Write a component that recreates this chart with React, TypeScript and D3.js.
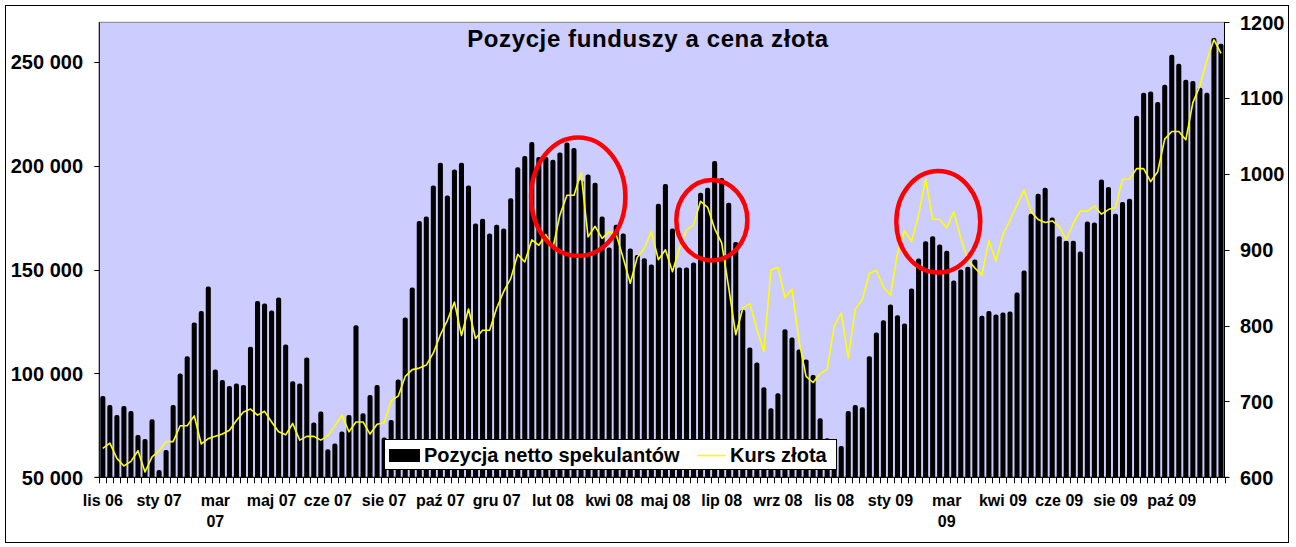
import React, { useRef, useEffect } from "react";
import * as d3 from "d3";

// net position of speculators (contracts), weekly
const positions = [
  89100, 84800, 80000, 84300, 81900, 70300, 68400, 77900, 53500, 63100,
  84800, 100000, 108300, 124500, 130000, 141800, 101900, 96800, 93900, 95200,
  94400, 112800, 134900, 133700, 130300, 136500, 113900, 96200, 95200, 107700,
  76400, 81700, 63500, 66300, 72100, 80000, 123200, 80800, 89600, 94400,
  69200, 77600, 97100, 126900, 141300, 173400, 175500, 190400, 201400, 185600,
  198100, 201400, 190400, 172100, 174500, 167300, 171600, 169700, 184300, 199200,
  204600, 211400, 204200, 204200, 202900, 206300, 211100, 208500, 193000, 195700,
  191800, 175500, 160600, 171600, 167300, 160100, 157000, 155400, 152400, 181700,
  191200, 169700, 151000, 151000, 153400, 186900, 189400, 202200, 194100, 182200,
  163300, 130600, 112500, 105300, 93300, 83200, 90400, 121200, 117300, 111500,
  106700, 99200, 78400, 68800, 60000, 65100, 81900, 84800, 83700, 108300,
  119700, 125600, 133200, 128000, 124000, 140900, 155300, 163600, 166000, 162000,
  159100, 144700, 150000, 151400, 154800, 127700, 130000, 128400, 129300, 129800,
  138900, 149500, 176800, 186500, 189400, 175000, 166000, 163900, 163900, 158700,
  173100, 172600, 193300, 189700, 176900, 182500, 184100, 224000, 235100, 235700,
  230600, 238900, 253400, 249000, 241300, 240700, 237500, 235100, 261500, 258700,
];

// gold price, USD/oz
const kurs = [
  638, 645, 625, 615, 621, 635, 607, 627, 635, 647,
  647, 668, 668, 681, 644, 651, 654, 657, 662, 675,
  686, 690, 682, 687, 673, 660, 656, 671, 649, 654,
  654, 649, 655, 668, 682, 660, 673, 673, 657, 670,
  672, 701, 707, 733, 742, 744, 748, 764, 788, 807,
  831, 787, 822, 783, 794, 794, 823, 845, 862, 894,
  884, 913, 906, 920, 902, 946, 972, 972, 1002, 917,
  931, 915, 924, 920, 889, 856, 890, 902, 924, 887,
  900, 871, 902, 926, 933, 964, 956, 928, 909, 850,
  788, 823, 829, 796, 766, 873, 877, 837, 848, 780,
  733, 725, 737, 742, 799, 817, 757, 822, 834, 869,
  873, 851, 840, 895, 925, 911, 946, 993, 941, 940,
  929, 950, 916, 887, 876, 867, 912, 885, 920, 939,
  959, 979, 950, 940, 936, 938, 931, 913, 935, 951,
  951, 958, 947, 953, 956, 993, 993, 1007, 1007, 990,
  1003, 1046, 1056, 1056, 1045, 1094, 1116, 1150, 1177, 1159,
];

const tickLabels = [
  "lis 06", "sty 07", "mar\n07", "maj 07", "cze 07", "sie 07", "paź 07",
  "gru 07", "lut 08", "kwi 08", "maj 08", "lip 08", "wrz 08", "lis 08",
  "sty 09", "mar\n09", "kwi 09", "cze 09", "sie 09", "paź 09",
];
const labelEvery = 8;

const leftTicks = [50000, 100000, 150000, 200000, 250000];
const rightTicks = [600, 700, 800, 900, 1000, 1100, 1200];

// red rings drawn over the chart: centre (week index, price) and half sizes
const highlights = [
  { center: 67.6, value: 970, halfWeeks: 6.7, halfPrice: 78 },
  { center: 86.6, value: 939, halfWeeks: 5.05, halfPrice: 53 },
  { center: 118.8, value: 937, halfWeeks: 5.97, halfPrice: 67 },
];

const WIDTH = 1296;
const HEIGHT = 547;
const FONT = "'Liberation Sans', Arial, sans-serif";

const App = () => {
  const chartRef = useRef<SVGSVGElement | null>(null);

  useEffect(() => {
    if (!chartRef.current) return;
    const svg = d3.select(chartRef.current);
    svg.selectAll("*").remove();

    const left = 99.3;
    const right = 1224.5;
    const top = 22.3;
    const bottom = 477.3;

    const idx = positions.map((_, i) => i);
    const x = d3.scaleBand<number>().domain(idx).range([left, right]).paddingInner(0.28).paddingOuter(0.14);
    const xc = d3.scaleLinear().domain([0, positions.length]).range([left, right]);
    const yL = d3.scaleLinear().domain([50000, 269000]).range([bottom, top]);
    const yR = d3.scaleLinear().domain([600, 1200]).range([bottom, top]);
    const fmt = d3.formatLocale({ thousands: " ", grouping: [3], decimal: ",", currency: ["", ""] }).format(",d");

    // outer frame
    svg.append("rect")
      .attr("x", 5.5).attr("y", 5.5)
      .attr("width", 1283).attr("height", 537)
      .attr("fill", "#fff").attr("stroke", "#000");

    // plot area
    svg.append("rect")
      .attr("x", left).attr("y", top)
      .attr("width", right - left).attr("height", bottom - top)
      .attr("fill", "#CCCCFF").attr("stroke", "#808080");

    svg.append("text")
      .attr("x", 648).attr("y", 47)
      .attr("text-anchor", "middle")
      .attr("font-family", FONT).attr("font-weight", "bold")
      .attr("font-size", 24).attr("letter-spacing", 0.6)
      .text("Pozycje funduszy a cena złota");

    // bars
    svg.append("g").selectAll("rect")
      .data(positions)
      .enter().append("rect")
      .attr("x", (_, i) => x(i)!)
      .attr("width", x.bandwidth())
      .attr("y", (d) => yL(d))
      .attr("height", (d) => bottom - yL(d) + 2)
      .attr("rx", 2)
      .attr("fill", "#000");

    // gold price line
    const line = d3.line<number>()
      .x((_, i) => xc(i + 0.5))
      .y((d) => yR(d));
    svg.append("path")
      .datum(kurs)
      .attr("d", line)
      .attr("fill", "none")
      .attr("stroke", "#FFFF00")
      .attr("stroke-width", 1.6)
      .attr("stroke-linejoin", "round");

    // cover the bar roundings below the axis
    svg.append("rect")
      .attr("x", left - 1).attr("y", bottom + 0.5)
      .attr("width", right - left + 2).attr("height", 4)
      .attr("fill", "#fff");

    // axes
    const axes = svg.append("g").attr("stroke", "#000").attr("stroke-width", 1);
    axes.append("line").attr("x1", left).attr("x2", left).attr("y1", top).attr("y2", bottom);
    axes.append("line").attr("x1", right).attr("x2", right).attr("y1", top).attr("y2", bottom);
    axes.append("line").attr("x1", left - 4).attr("x2", right + 4).attr("y1", bottom).attr("y2", bottom);

    axes.selectAll(".lt").data(leftTicks).enter().append("line")
      .attr("x1", left - 5).attr("x2", left)
      .attr("y1", (d) => Math.round(yL(d)) + 0.5).attr("y2", (d) => Math.round(yL(d)) + 0.5);
    axes.selectAll(".rt").data(rightTicks).enter().append("line")
      .attr("x1", right).attr("x2", right + 5)
      .attr("y1", (d) => Math.round(yR(d)) + 0.5).attr("y2", (d) => Math.round(yR(d)) + 0.5);
    axes.selectAll(".xt").data(d3.range(positions.length + 1)).enter().append("line")
      .attr("x1", (d) => Math.round(xc(d)) + 0.5).attr("x2", (d) => Math.round(xc(d)) + 0.5)
      .attr("y1", bottom).attr("y2", bottom + 6);

    svg.append("g").selectAll("text").data(leftTicks).enter().append("text")
      .attr("x", 83).attr("y", (d) => yL(d))
      .attr("dy", "0.36em")
      .attr("text-anchor", "end")
      .attr("font-family", FONT).attr("font-weight", "bold").attr("font-size", 20)
      .text((d) => fmt(d));

    svg.append("g").selectAll("text").data(rightTicks).enter().append("text")
      .attr("x", 1240).attr("y", (d) => yR(d))
      .attr("dy", "0.36em")
      .attr("font-family", FONT).attr("font-weight", "bold").attr("font-size", 20)
      .text((d) => d);

    const xl = svg.append("g").selectAll("text").data(tickLabels).enter().append("text")
      .attr("x", (_, k) => xc(k * labelEvery + 0.5))
      .attr("y", 506)
      .attr("text-anchor", "middle")
      .attr("font-family", FONT).attr("font-weight", "bold").attr("font-size", 16);
    xl.each(function (d) {
      const t = d3.select(this);
      d.split("\n").forEach((part, j) => {
        t.append("tspan")
          .attr("x", t.attr("x"))
          .attr("dy", j === 0 ? 0 : 21)
          .text(part);
      });
    });

    // legend
    const lg = svg.append("g");
    lg.append("rect")
      .attr("x", 384.5).attr("y", 439.5).attr("width", 452).attr("height", 30)
      .attr("fill", "#fff").attr("stroke", "#000");
    lg.append("rect")
      .attr("x", 389).attr("y", 449).attr("width", 31).attr("height", 13)
      .attr("fill", "#000");
    lg.append("text")
      .attr("x", 424).attr("y", 462)
      .attr("font-family", FONT).attr("font-weight", "bold").attr("font-size", 20)
      .text("Pozycja netto spekulantów");
    lg.append("line")
      .attr("x1", 697).attr("x2", 726).attr("y1", 455.5).attr("y2", 455.5)
      .attr("stroke", "#FFFF00").attr("stroke-width", 1.6);
    lg.append("text")
      .attr("x", 730).attr("y", 462)
      .attr("font-family", FONT).attr("font-weight", "bold").attr("font-size", 20)
      .text("Kurs złota");

    // red rings
    svg.append("g").selectAll("ellipse").data(highlights).enter().append("ellipse")
      .attr("cx", (d) => xc(d.center + 0.5))
      .attr("cy", (d) => yR(d.value))
      .attr("rx", (d) => xc(d.halfWeeks) - xc(0))
      .attr("ry", (d) => yR(d.value - d.halfPrice) - yR(d.value))
      .attr("fill", "none")
      .attr("stroke", "#FF0000")
      .attr("stroke-width", 4.5);
  }, []);

  return (
    <svg
      ref={chartRef}
      width={WIDTH}
      height={HEIGHT}
      viewBox={`0 0 ${WIDTH} ${HEIGHT}`}
      style={{ position: "absolute", left: 0, top: 0, background: "#fff" }}
    />
  );
};

export default App;
